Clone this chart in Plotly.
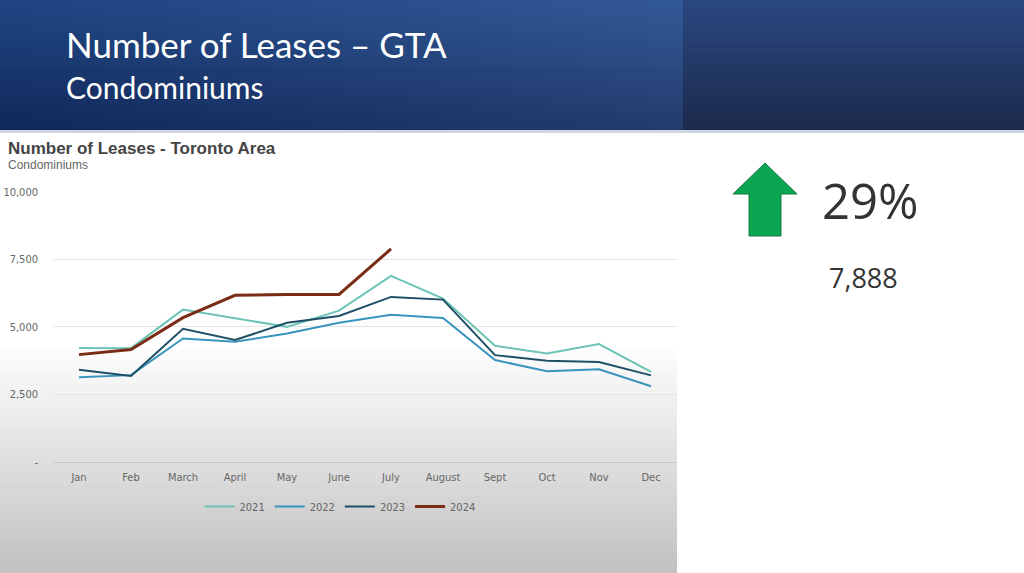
import plotly.graph_objects as go

W, H = 1024, 573

months = ["Jan", "Feb", "March", "April", "May", "June", "July",
          "August", "Sept", "Oct", "Nov", "Dec"]
leases_2021 = [4220, 4210, 5640, 5310, 5000, 5600, 6890, 6050, 4300, 4010, 4360, 3330]
leases_2022 = [3130, 3210, 4570, 4450, 4750, 5150, 5450, 5330, 3770, 3350, 3430, 2800]
leases_2023 = [3410, 3180, 4930, 4510, 5150, 5400, 6110, 6010, 3950, 3740, 3700, 3200]
leases_2024 = [3970, 4160, 5340, 6170, 6200, 6200, 7888]
y_ticks = [0, 2500, 5000, 7500, 10000]
y_ticktext = ["-", "2,500", "5,000", "7,500", "10,000"]

series = [
    ("2021", leases_2021, "#6cc4b6", 2),
    ("2022", leases_2022, "#3995bd", 2),
    ("2023", leases_2023, "#1f4f66", 2),
    ("2024", leases_2024, "#7a2d14", 3),
]


def fx(px):
    return px / W


def fy(py):
    return 1 - py / H


def hexmix(c1, c2, t):
    a = [int(c1[i:i + 2], 16) for i in (1, 3, 5)]
    b = [int(c2[i:i + 2], 16) for i in (1, 3, 5)]
    return "#" + "".join("%02x" % round(a[k] + (b[k] - a[k]) * t) for k in range(3))


fig = go.Figure()
for name, vals, color, width in series:
    fig.add_trace(go.Scatter(
        x=months[:len(vals)], y=vals, name=name, mode="lines",
        line=dict(color=color, width=width),
    ))

shapes = []
# header: vertical gradient bands (overlapping so no seams show)
n = 30
for i in range(n):
    y0 = 131 * i / n
    t = i / (n - 1)
    shapes.append(dict(type="rect", xref="paper", yref="paper", layer="below",
                       x0=0, x1=fx(683), y0=fy(131), y1=fy(y0), line_width=0,
                       fillcolor=hexmix("#345a97", "#243c6e", t)))
    shapes.append(dict(type="rect", xref="paper", yref="paper", layer="below",
                       x0=fx(683), x1=1, y0=fy(131), y1=fy(y0), line_width=0,
                       fillcolor=hexmix("#2a4780", "#1c2a4c", t)))
# header: darken towards the left edge
n = 20
for i in range(n):
    x1 = 683 * (1 - i / n)
    shapes.append(dict(type="rect", xref="paper", yref="paper", layer="below",
                       x0=0, x1=fx(x1), y0=fy(131), y1=1, line_width=0,
                       fillcolor="#0a1530", opacity=0.012))
shapes.append(dict(type="rect", xref="paper", yref="paper", layer="below",
                   x0=0, x1=1, y0=fy(133), y1=fy(130), line_width=0,
                   fillcolor="#cfd6e2"))
# chart panel gradient
shapes.append(dict(type="rect", xref="paper", yref="paper", layer="below",
                   x0=0, x1=fx(677), y0=fy(H), y1=fy(133), line_width=0,
                   fillcolor="#ffffff"))
n = 40
for i in range(n):
    y0 = 350 + (H - 350) * i / n
    t = i / (n - 1)
    shapes.append(dict(type="rect", xref="paper", yref="paper", layer="below",
                       x0=0, x1=fx(677), y0=fy(H), y1=fy(y0), line_width=0,
                       fillcolor=hexmix("#fcfcfc", "#c2c2c2", t)))
# green arrow
arrow = "M {},{} L {},{} L {},{} L {},{} L {},{} L {},{} L {},{} Z".format(
    fx(765), fy(163), fx(797), fy(194), fx(781), fy(194), fx(781), fy(236),
    fx(749), fy(236), fx(749), fy(194), fx(733), fy(194))
shapes.append(dict(type="path", xref="paper", yref="paper", path=arrow,
                   fillcolor="#0aa652", line=dict(color="#1b7a45", width=1)))

annotations = [
    dict(text="Number of Leases – GTA", x=fx(64), y=fy(44), xanchor="left", yanchor="middle",
         font=dict(family="Lato", size=35, color="#ffffff")),
    dict(text="Condominiums", x=fx(64), y=fy(87), xanchor="left", yanchor="middle",
         font=dict(family="Lato", size=30, color="#ffffff")),
    dict(text="<b>Number of Leases - Toronto Area</b>", x=fx(6), y=fy(149), xanchor="left",
         yanchor="middle", font=dict(family="Liberation Sans", size=17, color="#444444")),
    dict(text="Condominiums", x=fx(6), y=fy(165), xanchor="left", yanchor="middle",
         font=dict(family="Liberation Sans", size=12, color="#666666")),
    dict(text="29%", x=fx(820), y=fy(200), xanchor="left", yanchor="middle",
         font=dict(family="Open Sans", size=49, color="#333333")),
    dict(text="7,888", x=fx(827), y=fy(277), xanchor="left", yanchor="middle",
         font=dict(family="Open Sans", size=27, color="#333333")),
]
for a in annotations:
    a.update(xref="paper", yref="paper", showarrow=False)

tick_font = dict(family="Liberation Sans Narrow, DejaVu Sans Condensed", size=11, color="#666666")

fig.update_layout(
    width=W, height=H,
    margin=dict(l=0, r=0, t=0, b=0, pad=0, autoexpand=False),
    paper_bgcolor="#ffffff",
    plot_bgcolor="rgba(0,0,0,0)",
    shapes=shapes,
    annotations=annotations,
    showlegend=True,
    legend=dict(orientation="h", x=fx(340), xanchor="center", y=fy(492), yanchor="top",
                font=tick_font, bgcolor="rgba(0,0,0,0)", itemwidth=30),
    xaxis=dict(domain=[fx(53), fx(677)], type="category", categoryarray=months,
               range=[-0.5, 11.5], showgrid=False, showline=True, linecolor="#c8c8c8",
               linewidth=1, ticks="", ticklabelstandoff=5, tickfont=tick_font,
               fixedrange=True, automargin=False),
    yaxis=dict(domain=[fy(461.7), fy(192)], range=[0, 10000], tickvals=y_ticks,
               ticktext=y_ticktext, showgrid=True, gridcolor="#e4e4e4", zeroline=False,
               showline=False, ticks="", ticklabelstandoff=14, tickfont=tick_font,
               fixedrange=True, automargin=False),
)

pin = ("document.body.style.margin='0px';"
       "var d=document.getElementById('{plot_id}');"
       "d.style.position='fixed';d.style.top='0px';d.style.left='0px';")
fig.write_html("out.html", config={"displayModeBar": False}, post_script=pin)
